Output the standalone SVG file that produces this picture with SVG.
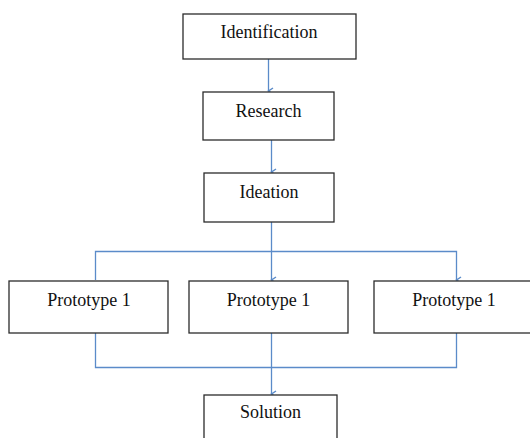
<svg xmlns="http://www.w3.org/2000/svg" width="530" height="438" viewBox="0 0 530 438">
<defs>
<style>
.box{fill:#fff;stroke:#2b2b2b;stroke-width:1.3}
.lbl{font-family:"Liberation Serif","Times New Roman",serif;font-size:18px;fill:#111;text-anchor:middle}
.con{fill:none;stroke:#5b8bc9;stroke-width:1.3}
</style>
<marker id="ah" markerWidth="10" markerHeight="10" refX="5" refY="8" orient="auto" markerUnits="userSpaceOnUse" viewBox="0 0 10 10">
<path d="M2,3.5 L5,8 L8,3.5" fill="none" stroke="#5b8bc9" stroke-width="1.5"/>
</marker>
</defs>
<rect width="530" height="438" fill="#fff"/>
<g id="connectors">
<path class="con" d="M268.5,59 V91" marker-end="url(#ah)"/>
<path class="con" d="M271.5,140 V172" marker-end="url(#ah)"/>
<path class="con" d="M271.5,222 V280" marker-end="url(#ah)"/>
<path class="con" d="M95.5,280 V251.5 H456.5 V280" marker-end="url(#ah)"/>
<path class="con" d="M95.5,333 V367.5 H456.5 V333"/>
<path class="con" d="M271.5,333 V394" marker-end="url(#ah)"/>
</g>
<g id="identification">
<rect class="box" x="183" y="14" width="173" height="45"/>
<text class="lbl" x="269" y="38">Identification</text>
</g>
<g id="research">
<rect class="box" x="203" y="92" width="131" height="48"/>
<text class="lbl" x="268.5" y="117">Research</text>
</g>
<g id="ideation">
<rect class="box" x="204" y="173" width="130" height="49"/>
<text class="lbl" x="269" y="198">Ideation</text>
</g>
<g id="prototype-left">
<rect class="box" x="9" y="281" width="159" height="52"/>
<text class="lbl" x="89" y="306">Prototype 1</text>
</g>
<g id="prototype-middle">
<rect class="box" x="189" y="281" width="159" height="52"/>
<text class="lbl" x="268.5" y="306">Prototype 1</text>
</g>
<g id="prototype-right">
<rect class="box" x="374" y="281" width="170" height="52"/>
<text class="lbl" x="454" y="306">Prototype 1</text>
</g>
<g id="solution">
<rect class="box" x="204" y="395" width="133" height="60"/>
<text class="lbl" x="270.5" y="418">Solution</text>
</g>
</svg>
